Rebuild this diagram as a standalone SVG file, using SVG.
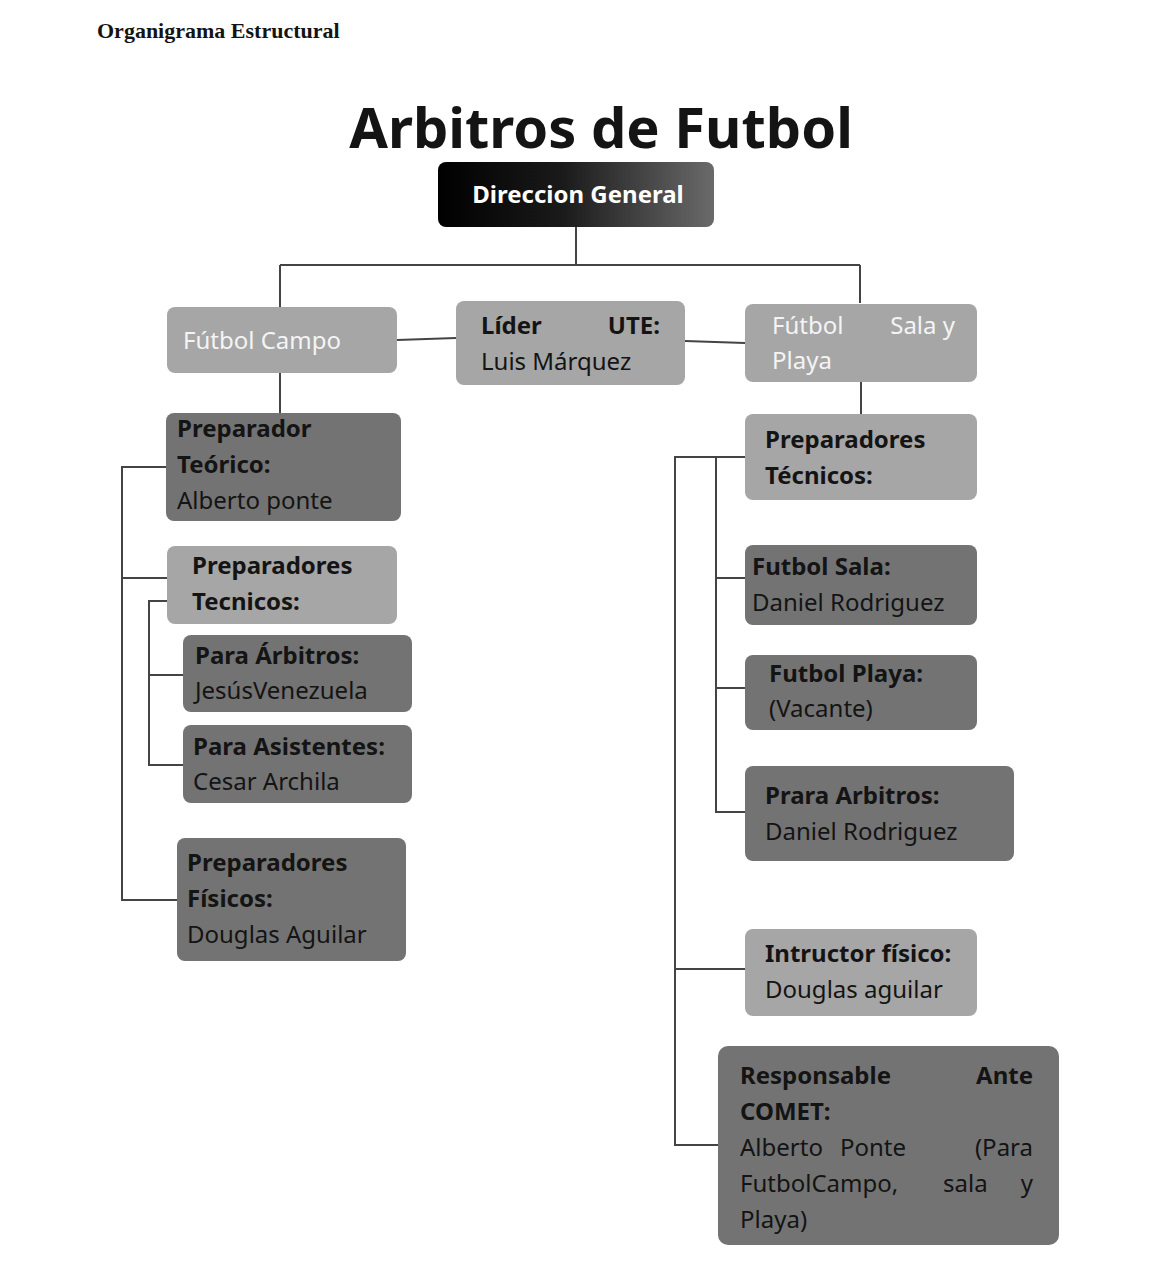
<svg xmlns="http://www.w3.org/2000/svg" width="1155" height="1270" viewBox="0 0 1155 1270">
<style>
.l{fill:#a6a6a6}.d{fill:#737373}
text{font-family:"Noto Sans","Open Sans",sans-serif;font-size:24px;fill:#141414}
.b{font-weight:bold}.w{fill:#f4f4f4}
.c{stroke:#444;stroke-width:2;fill:none}
</style>
<defs><linearGradient id="g" x1="0" x2="1"><stop offset="0" stop-color="#000"/><stop offset="0.45" stop-color="#1a1a1a"/><stop offset="1" stop-color="#6a6a6a"/></linearGradient></defs>
<rect width="1155" height="1270" fill="#fff"/>
<text x="97" y="38" style="font-family:'Liberation Serif',serif;font-size:22px;font-weight:bold" fill="#000">Organigrama Estructural</text>
<text x="601" y="148" text-anchor="middle" class="b" style="font-size:56px" fill="#000">Arbitros de Futbol</text>
<g id="connectors" class="c">
<path d="M576 227V265M280 265H860M280 265V307M860 265V303M397 340L456 338M685 341L745 343M280 373V413"/>
<path d="M166 467H122V900H177M122 578H167M167 601H149V765H183M149 675H183"/>
<path d="M861 382V414M745 457H675V1145H718M675 969H745M716 457V812H745M716 578H745M716 688H745"/>
</g>
<g id="dg"><rect x="438" y="162" width="276" height="65" rx="8" fill="url(#g)"/><text x="578" y="203" text-anchor="middle" class="b" fill="#fff" style="fill:#fff">Direccion General</text></g>
<g id="fc"><rect class="l" x="167" y="307" width="230" height="66" rx="8"/><text x="183" y="349" class="w">Fútbol  Campo</text></g>
<g id="lider"><rect class="l" x="456" y="301" width="229" height="84" rx="8"/><text x="481" y="334" class="b">Líder</text><text x="660" y="334" class="b" text-anchor="end">UTE:</text><text x="481" y="370">Luis Márquez</text></g>
<g id="fsp"><rect class="l" x="745" y="304" width="232" height="78" rx="8"/><text x="772" y="334" class="w">Fútbol</text><text x="955" y="334" class="w" text-anchor="end">Sala  y</text><text x="772" y="369" class="w">Playa</text></g>
<g id="pt"><rect class="d" x="166" y="413" width="235" height="108" rx="8"/><text x="177" y="437" class="b">Preparador</text><text x="177" y="473" class="b">Teórico:</text><text x="177" y="509">Alberto ponte</text></g>
<g id="ptec"><rect class="l" x="167" y="546" width="230" height="78" rx="8"/><text x="192" y="574" class="b">Preparadores</text><text x="192" y="610" class="b">Tecnicos:</text></g>
<g id="pa"><rect class="d" x="183" y="635" width="229" height="77" rx="8"/><text x="195" y="664" class="b">Para Árbitros:</text><text x="195" y="699">JesúsVenezuela</text></g>
<g id="pas"><rect class="d" x="183" y="725" width="229" height="78" rx="8"/><text x="193" y="755" class="b">Para Asistentes:</text><text x="193" y="790">Cesar Archila</text></g>
<g id="pf"><rect class="d" x="177" y="838" width="229" height="123" rx="8"/><text x="187" y="871" class="b">Preparadores</text><text x="187" y="907" class="b">Físicos:</text><text x="187" y="943">Douglas Aguilar</text></g>
<g id="ptr"><rect class="l" x="745" y="414" width="232" height="86" rx="8"/><text x="765" y="448" class="b">Preparadores</text><text x="765" y="484" class="b">Técnicos:</text></g>
<g id="fs"><rect class="d" x="745" y="545" width="232" height="80" rx="8"/><text x="752" y="575" class="b">Futbol Sala:</text><text x="752" y="611">Daniel Rodriguez</text></g>
<g id="fpl"><rect class="d" x="745" y="655" width="232" height="75" rx="8"/><text x="769" y="682" class="b">Futbol Playa:</text><text x="769" y="717">(Vacante)</text></g>
<g id="pra"><rect class="d" x="745" y="766" width="269" height="95" rx="8"/><text x="765" y="804" class="b">Prara Arbitros:</text><text x="765" y="840">Daniel Rodriguez</text></g>
<g id="if"><rect class="l" x="745" y="929" width="232" height="87" rx="8"/><text x="765" y="962" class="b">Intructor físico:</text><text x="765" y="998">Douglas aguilar</text></g>
<g id="resp"><rect class="d" x="718" y="1046" width="341" height="199" rx="10"/>
<text x="740" y="1084" class="b">Responsable</text><text x="1033" y="1084" class="b" text-anchor="end">Ante</text>
<text x="740" y="1120" class="b">COMET:</text>
<text x="740" y="1156">Alberto</text><text x="840" y="1156">Ponte</text><text x="1033" y="1156" text-anchor="end">(Para</text>
<text x="740" y="1192">FutbolCampo,</text><text x="943" y="1192">sala</text><text x="1033" y="1192" text-anchor="end">y</text>
<text x="740" y="1228">Playa)</text></g>
</svg>
